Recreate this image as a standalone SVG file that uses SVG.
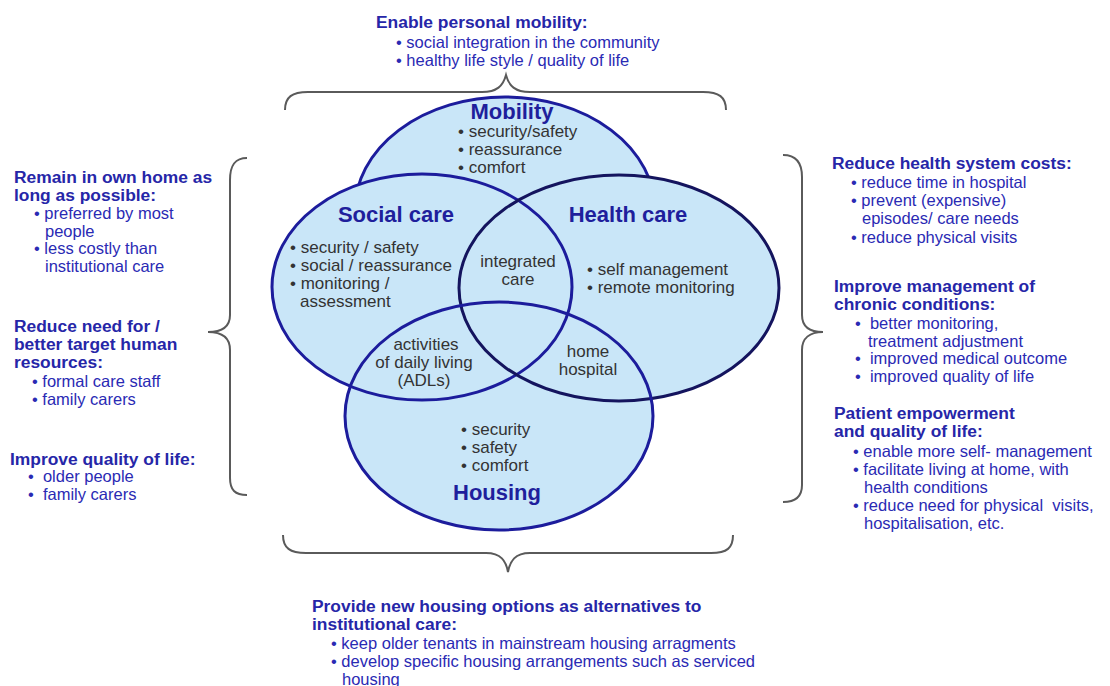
<svg xmlns="http://www.w3.org/2000/svg" width="1110" height="686" viewBox="0 0 1110 686">
  <style>
    .bg { fill: #ffffff; }
    .fill { fill: #c9e6f8; }
    .ring { fill: none; stroke: #1c1c9c; stroke-width: 3; }
    .ring-dark { fill: none; stroke: #14145e; stroke-width: 3; }
    .brace { fill: none; stroke: #5a5a5a; stroke-width: 2; }
    .head { font-family: "Liberation Sans", Arial, sans-serif; font-weight: bold; font-size: 17.4px; fill: #2626a8; }
    .item { font-family: "Liberation Sans", Arial, sans-serif; font-size: 16.5px; fill: #2a2ab4; }
    .title { font-family: "Liberation Sans", Arial, sans-serif; font-weight: bold; font-size: 22px; fill: #1f1f9c; text-anchor: middle; }
    .inner { font-family: "Liberation Sans", Arial, sans-serif; font-size: 17px; fill: #333333; }
    .mid { text-anchor: middle; }
  </style>

  <rect class="bg" x="0" y="0" width="1110" height="686"/>

  <!-- braces grouping the benefits around the diagram -->
  <g id="connectors">
    <path class="brace" d="M285,110 C285,97 292,92 308,92 L482,92 C497,92 503,86 506,75 C509,86 515,92 530,92 L703,92 C719,92 726,97 726,110"/>
    <path class="brace" d="M247,158 C235,158 230,165 230,180 L230,315 C230,327 222,332 208,332 C222,332 230,338 230,350 L230,478 C230,490 235,495 247,495"/>
    <path class="brace" d="M783,155 C795,155 802,162 802,177 L802,315 C802,327 810,332 823,332 C810,332 802,338 802,350 L802,485 C802,497 795,502 783,502"/>
    <path class="brace" d="M283,535 C283,548 290,553 306,553 L486,553 C501,553 506,561 508,572 C510,561 515,553 530,553 L711,553 C727,553 733,548 733,535"/>
  </g>

  <!-- Mobility circle sits underneath; its lower arc is covered by the others -->
  <g id="mobility">
    <ellipse class="fill" cx="505" cy="210" rx="150" ry="113"/>
    <ellipse class="ring" cx="505" cy="210" rx="150" ry="113"/>
  </g>

  <!-- shared fills for the three front circles -->
  <g id="fills">
    <ellipse class="fill" cx="422" cy="287" rx="150" ry="113"/>
    <ellipse class="fill" cx="619" cy="288" rx="160" ry="113"/>
    <ellipse class="fill" cx="499" cy="416" rx="154" ry="114"/>
  </g>

  <g id="social-care">
    <ellipse class="ring" cx="422" cy="287" rx="150" ry="113"/>
  </g>
  <g id="health-care">
    <ellipse class="ring-dark" cx="619" cy="288" rx="160" ry="113"/>
  </g>
  <g id="housing">
    <ellipse class="ring" cx="499" cy="416" rx="154" ry="114"/>
  </g>

  <!-- circle labels -->
  <g id="mobility-text">
    <text class="title" x="512" y="119">Mobility</text>
    <text class="inner" x="458" y="137">• security/safety</text>
    <text class="inner" x="458" y="155">• reassurance</text>
    <text class="inner" x="458" y="173">• comfort</text>
  </g>
  <g id="social-care-text">
    <text class="title" x="396" y="222">Social care</text>
    <text class="inner" x="290" y="253">• security / safety</text>
    <text class="inner" x="290" y="271">• social / reassurance</text>
    <text class="inner" x="290" y="289">• monitoring /</text>
    <text class="inner" x="300" y="307">assessment</text>
  </g>
  <g id="health-care-text">
    <text class="title" x="628" y="222">Health care</text>
    <text class="inner" x="587" y="275">• self management</text>
    <text class="inner" x="587" y="293">• remote monitoring</text>
  </g>
  <g id="integrated-care">
    <text class="inner mid" x="518" y="267">integrated</text>
    <text class="inner mid" x="518" y="285">care</text>
  </g>
  <g id="adl">
    <text class="inner mid" x="426" y="350">activities</text>
    <text class="inner mid" x="424" y="368">of daily living</text>
    <text class="inner mid" x="424" y="386">(ADLs)</text>
  </g>
  <g id="home-hospital">
    <text class="inner mid" x="588" y="357">home</text>
    <text class="inner mid" x="588" y="375">hospital</text>
  </g>
  <g id="housing-text">
    <text class="inner" x="461" y="435">• security</text>
    <text class="inner" x="461" y="453">• safety</text>
    <text class="inner" x="461" y="471">• comfort</text>
    <text class="title" x="497" y="500">Housing</text>
  </g>

  <!-- benefit blocks -->
  <g id="benefit-mobility">
    <text class="head" x="376" y="28">Enable personal mobility:</text>
    <text class="item" x="396" y="48">• social integration in the community</text>
    <text class="item" x="396" y="66">• healthy life style / quality of life</text>
  </g>

  <g id="benefit-left">
    <text class="head" x="14" y="183">Remain in own home as</text>
    <text class="head" x="14" y="201">long as possible:</text>
    <text class="item" x="34" y="219">• preferred by most</text>
    <text class="item" x="45" y="237">people</text>
    <text class="item" x="34" y="254">• less costly than</text>
    <text class="item" x="45" y="272">institutional care</text>

    <text class="head" x="14" y="332">Reduce need for /</text>
    <text class="head" x="14" y="350">better target human</text>
    <text class="head" x="14" y="368">resources:</text>
    <text class="item" x="32" y="387">• formal care staff</text>
    <text class="item" x="32" y="405">• family carers</text>

    <text class="head" x="10" y="465">Improve quality of life:</text>
    <text class="item" x="28" y="482">•&#160; older people</text>
    <text class="item" x="28" y="500">•&#160; family carers</text>
  </g>

  <g id="benefit-right">
    <text class="head" x="832" y="169">Reduce health system costs:</text>
    <text class="item" x="851" y="188">• reduce time in hospital</text>
    <text class="item" x="851" y="206">• prevent (expensive)</text>
    <text class="item" x="862" y="224">episodes/ care needs</text>
    <text class="item" x="851" y="243">• reduce physical visits</text>

    <text class="head" x="834" y="292">Improve management of</text>
    <text class="head" x="834" y="310">chronic conditions:</text>
    <text class="item" x="855" y="329">•&#160; better monitoring,</text>
    <text class="item" x="868" y="347">treatment adjustment</text>
    <text class="item" x="855" y="364">•&#160; improved medical outcome</text>
    <text class="item" x="855" y="382">•&#160; improved quality of life</text>

    <text class="head" x="834" y="419">Patient empowerment</text>
    <text class="head" x="834" y="437">and quality of life:</text>
    <text class="item" x="853" y="457">• enable more self- management</text>
    <text class="item" x="853" y="475">• facilitate living at home, with</text>
    <text class="item" x="864" y="493">health conditions</text>
    <text class="item" x="853" y="511">• reduce need for physical&#160; visits,</text>
    <text class="item" x="864" y="529">hospitalisation, etc.</text>
  </g>

  <g id="benefit-housing">
    <text class="head" x="312" y="612">Provide new housing options as alternatives to</text>
    <text class="head" x="312" y="630">institutional care:</text>
    <text class="item" x="331" y="649">• keep older tenants in mainstream housing arragments</text>
    <text class="item" x="331" y="667">• develop specific housing arrangements such as serviced</text>
    <text class="item" x="342" y="685">housing</text>
  </g>
</svg>
